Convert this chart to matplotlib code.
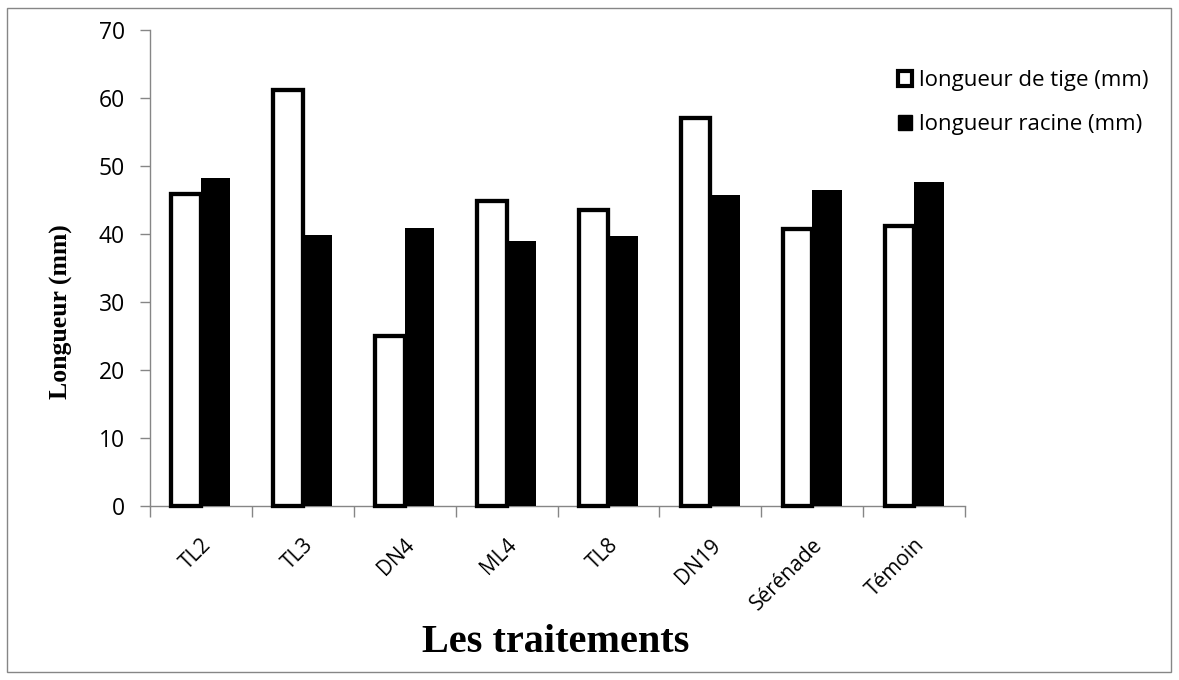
import numpy as np
import matplotlib
matplotlib.use('Agg')
import matplotlib.pyplot as plt
from matplotlib.patches import Rectangle, Patch
from matplotlib.transforms import ScaledTranslation

# Données
traitements = ['TL2', 'TL3', 'DN4', 'ML4', 'TL8', 'DN19', 'Sérénade', 'Témoin']
tige = [45.9, 61.2, 25.0, 44.9, 43.5, 57.1, 40.8, 41.2]
racine = [48.2, 39.9, 40.9, 38.9, 39.7, 45.8, 46.4, 47.7]

gris = '#868686'
plt.rcParams['font.family'] = ['Open Sans', 'DejaVu Sans']

fig = plt.figure(figsize=(11.79, 6.80), dpi=100)
ax = fig.add_axes([150 / 1179, 1 - 506 / 680, 815 / 1179, 476 / 680])

x = np.arange(len(traitements))
w = 0.29
ax.bar(x - w / 2, tige, w, color='white', edgecolor='black', linewidth=3.1,
       zorder=3, clip_on=False)
ax.bar(x + w / 2, racine, w, color='black', edgecolor='black', linewidth=0,
       zorder=4, clip_on=False)

ax.set_xlim(-0.5, len(traitements) - 0.5)
ax.set_ylim(0, 70)
ax.set_yticks(np.arange(0, 71, 10))

# graduations aux limites des catégories, étiquettes au centre
ax.set_xticks(np.arange(len(traitements) + 1) - 0.5)
ax.set_xticklabels([])
ax.set_xticks(x, traitements, minor=True)
ax.tick_params(axis='x', which='major', length=8, width=1, color=gris, direction='out')
ax.tick_params(axis='x', which='minor', length=0, pad=26, labelsize=15)
ax.tick_params(axis='y', length=7, width=1, color=gris, pad=11, labelsize=16.5)
decal = ScaledTranslation(7 / 100, 0, fig.dpi_scale_trans)
for lab in ax.get_xticklabels(minor=True):
    lab.set_rotation(45)
    lab.set_ha('right')
    lab.set_va('center')
    lab.set_rotation_mode('anchor')
    lab.set_transform(lab.get_transform() + decal)

for s in ['top', 'right']:
    ax.spines[s].set_visible(False)
for s in ['left', 'bottom']:
    ax.spines[s].set_color(gris)
    ax.spines[s].set_linewidth(1)

fig.text(61 / 1179, 1 - 312 / 680, 'Longueur (mm)', rotation=90, ha='center', va='center',
         family='Liberation Serif', fontweight='bold', fontsize=18.5)
fig.text(556 / 1179, 1 - 643 / 680, 'Les traitements', ha='center', va='center',
         family='Liberation Serif', fontweight='bold', fontsize=29)

handles = [Patch(facecolor='white', edgecolor='black', linewidth=3),
           Patch(facecolor='black', edgecolor='black')]
fig.legend(handles, ['longueur de tige (mm)', 'longueur racine (mm)'],
           loc='upper left', bbox_to_anchor=(878 / 1179, 1 - 50 / 680),
           frameon=False, fontsize=16, handlelength=0.65, handleheight=0.65,
           handletextpad=0.3, labelspacing=1.05)

fig.patches.append(Rectangle((7 / 1179, 8 / 680), 1164 / 1179, 664 / 680,
                             transform=fig.transFigure, fill=False,
                             edgecolor=gris, linewidth=1))

fig.savefig('out.png', dpi=100)
